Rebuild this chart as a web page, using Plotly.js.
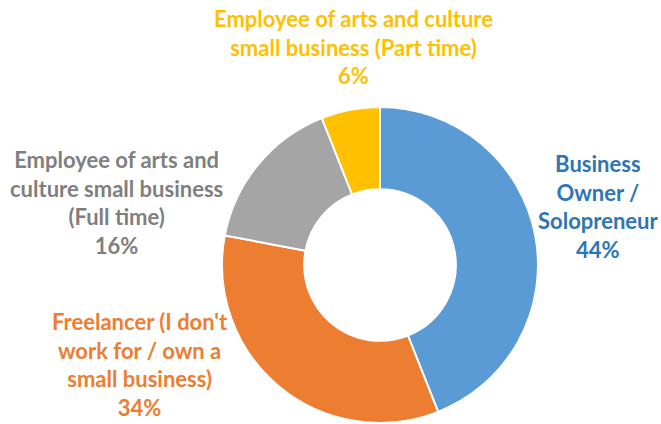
<!DOCTYPE html>
<html>
<head>
<meta charset="utf-8">
<script src="https://cdn.plot.ly/plotly-3.0.1.min.js"></script>
<style>html,body{margin:0;padding:0;background:#fff;}#chart{width:661px;height:424px;}</style>
</head>
<body>
<div id="chart"></div>
<script>
const categories = [
  "Business Owner / Solopreneur",
  "Freelancer (I don't work for / own a small business)",
  "Employee of arts and culture small business (Full time)",
  "Employee of arts and culture small business (Part time)"
];
const displayLabels = [
  "Business<br>Owner /<br>Solopreneur",
  "Freelancer (I don't<br>work for / own a<br>small business)",
  "Employee of arts and<br>culture small business<br>(Full time)",
  "Employee of arts and culture<br>small business (Part time)"
];
const values = [44, 34, 16, 6];
const sliceColors = ["#5B9BD5", "#ED7D31", "#A5A5A5", "#FFC000"];
const labelColors = ["#2E75B6", "#ED7D31", "#7F7F7F", "#FFC000"];
const labelPos = [[0.905, 0.513], [0.212, 0.140], [0.177, 0.522], [0.535, 0.889]];

const total = values.reduce((a, b) => a + b, 0);
const annotations = categories.map((c, i) => ({
  xref: "paper", yref: "paper",
  x: labelPos[i][0], y: labelPos[i][1],
  xanchor: "center", yanchor: "middle",
  showarrow: false, align: "center",
  text: displayLabels[i] + "<br>" + Math.round(values[i] / total * 100) + "%",
  font: {family: "Lato, 'Open Sans', sans-serif", size: 22, color: labelColors[i], weight: "bold"}
}));

Plotly.newPlot("chart", [{
  type: "pie",
  labels: categories,
  values: values,
  hole: 0.48,
  sort: false,
  direction: "clockwise",
  rotation: 0,
  textinfo: "none",
  hoverinfo: "label+percent",
  marker: {colors: sliceColors, line: {color: "#ffffff", width: 2}},
  domain: {x: [0.3359, 0.8139], y: [0.0024, 0.7476]}
}], {
  width: 661, height: 424,
  margin: {l: 0, r: 0, t: 0, b: 0},
  paper_bgcolor: "#ffffff",
  showlegend: false,
  annotations: annotations
}, {staticPlot: true});
</script>
</body>
</html>
